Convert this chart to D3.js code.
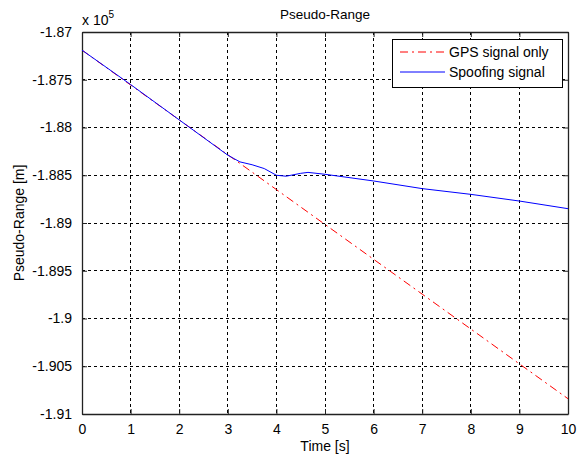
<!DOCTYPE html>
<html><head><meta charset="utf-8">
<script src="https://cdn.jsdelivr.net/npm/d3@7"></script>
<style>body{margin:0;background:#fff}text{font-family:"Liberation Sans",Arial,sans-serif;fill:#000}</style>
</head><body><svg id="c" width="588" height="460"></svg>
<script>
const xTicks = [0,1,2,3,4,5,6,7,8,9,10];
const yTicks = [-1.87,-1.875,-1.88,-1.885,-1.89,-1.895,-1.9,-1.905,-1.91];
const yTickLabels = ["-1.87","-1.875","-1.88","-1.885","-1.89","-1.895","-1.9","-1.905","-1.91"];
const gpsTime = [0,1,2,3,4,5,6,7,8,9,10];
const gpsRange = [-1.8719,-1.87555,-1.8792,-1.88285,-1.8865,-1.89015,-1.8938,-1.89745,-1.9011,-1.90475,-1.9084];
const spoofTime = [0,1,2,3,3.25,3.5,3.75,4,4.2,4.5,4.65,5,6,7,8,9,10];
const spoofRange = [-1.8719,-1.8755,-1.8792,-1.8829,-1.8836,-1.8839,-1.8843,-1.8850,-1.8851,-1.8848,-1.8847,-1.8849,-1.8856,-1.8864,-1.8870,-1.8877,-1.8885];
const seriesNames = ["GPS signal only","Spoofing signal"];

const svg = d3.select("#c");
const L=82,R=568,T=32,B=414;
const x = d3.scaleLinear().domain([0,10]).range([L,R]);
const y = d3.scaleLinear().domain([-1.91,-1.87]).range([B,T]);
const g = svg.append("g");
// grid
g.selectAll(".gx").data(xTicks.slice(1,-1)).join("line")
 .attr("x1",d=>x(d)).attr("x2",d=>x(d)).attr("y1",T).attr("y2",B)
 .attr("stroke","#000").attr("stroke-width",1).attr("stroke-dasharray","3,3").attr("shape-rendering","crispEdges");
g.selectAll(".gy").data(yTicks.slice(1,-1)).join("line")
 .attr("y1",d=>y(d)).attr("y2",d=>y(d)).attr("x1",L).attr("x2",R)
 .attr("stroke","#000").attr("stroke-width",1).attr("stroke-dasharray","3,3").attr("shape-rendering","crispEdges");
// axes
const xb = d3.axisBottom(x).tickValues(xTicks).tickSizeInner(-5).tickSizeOuter(0).tickPadding(10).tickFormat(d3.format("d"));
const xt = d3.axisTop(x).tickValues(xTicks).tickSizeInner(-5).tickSizeOuter(0).tickFormat("");
const yl = d3.axisLeft(y).tickValues(yTicks).tickSizeInner(-5).tickSizeOuter(0).tickPadding(10).tickFormat((d,i)=>yTickLabels[i]);
const yr = d3.axisRight(y).tickValues(yTicks).tickSizeInner(-5).tickSizeOuter(0).tickFormat("");
function style(sel){sel.selectAll("path").attr("stroke","#222").attr("stroke-width",1.3);
 sel.selectAll("line").attr("stroke","#222");
 sel.selectAll("text").style("font-size","14px").attr("fill","#000");}
svg.append("g").attr("transform",`translate(0,${B})`).call(xb).call(style);
svg.append("g").attr("transform",`translate(0,${T})`).call(xt).call(style);
svg.append("g").attr("transform",`translate(${L},0)`).call(yl).call(style);
svg.append("g").attr("transform",`translate(${R},0)`).call(yr).call(style);
// lines
const lineGen = d3.line().x(d=>x(d[0])).y(d=>y(d[1]));
svg.append("path").datum(gpsTime.map((t,i)=>[t,gpsRange[i]])).attr("d",lineGen)
 .attr("fill","none").attr("stroke","#ff0000").attr("stroke-width",1).attr("stroke-dasharray","8,4,2,4");
svg.append("path").datum(spoofTime.map((t,i)=>[t,spoofRange[i]])).attr("d",lineGen)
 .attr("fill","none").attr("stroke","#0000ff").attr("stroke-width",1);
// labels
svg.append("text").attr("x",(L+R)/2).attr("y",19).attr("text-anchor","middle").style("font-size","13.5px").text("Pseudo-Range");
svg.append("text").attr("x",(L+R)/2).attr("y",451).attr("text-anchor","middle").style("font-size","14px").text("Time [s]");
svg.append("text").attr("transform",`translate(24,${(T+B)/2}) rotate(-90)`).attr("text-anchor","middle").style("font-size","14px").text("Pseudo-Range [m]");
const ex = svg.append("text").attr("x",82).attr("y",25).style("font-size","14px");
ex.append("tspan").text("x 10");
ex.append("tspan").attr("dy",-7).style("font-size","10px").text("5");
// legend
const lg = svg.append("g");
lg.append("rect").attr("x",392.5).attr("y",39.5).attr("width",170).attr("height",48).attr("fill","#fff").attr("stroke","#000");
const cols=["#ff0000","#0000ff"], dashes=["8,4,2,4",null], ly=[52,72];
seriesNames.forEach((n,i)=>{
 lg.append("line").attr("x1",400).attr("x2",445).attr("y1",ly[i]).attr("y2",ly[i]).attr("stroke",cols[i]).attr("stroke-dasharray",dashes[i]);
 lg.append("text").attr("x",449).attr("y",ly[i]+5).style("font-size","14px").text(n);
});
</script></body></html>
